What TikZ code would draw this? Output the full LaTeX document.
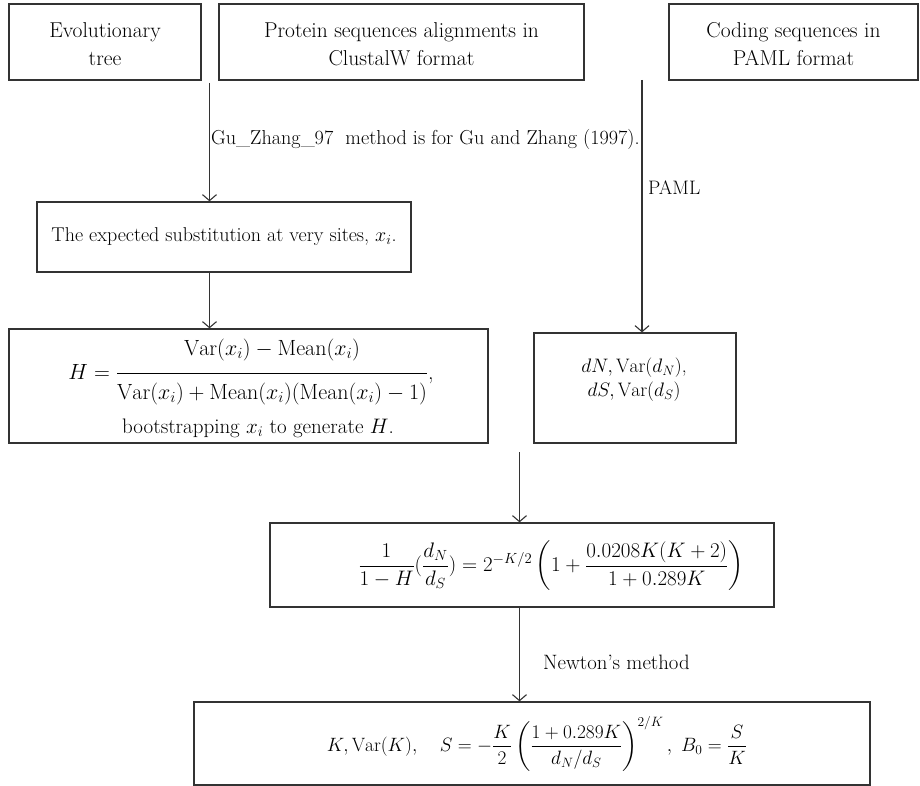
\RequirePackage{fix-cm}
\documentclass[tikz,border=0pt]{standalone}
\usepackage{amsmath}
\usepackage{fontspec}
\usetikzlibrary{arrows.meta}
\newcommand{\fs}[2]{\fontsize{#1}{#2}\selectfont}
\newcommand{\shiftdown}[2]{\raisebox{-#1}[\height][\depth]{\begin{tabular}{@{}c@{}}#2\end{tabular}}}
\begin{document}
\begin{tikzpicture}[x=1pt,y=-1pt,
  every node/.style={font=\fs{20}{27}},
  box/.style={draw=black!80, line width=1.3pt, rectangle, inner sep=0pt, align=center},
  topbox/.style={box, minimum height=76pt, font=\fs{21.5}{28.5}},
  txt/.style={inner sep=0pt, align=center},
  lbl/.style={inner sep=0pt, anchor=west},
  arr/.style={draw=black!80, line width=1.1pt, -{Straight Barb[length=6pt,width=14pt]}}]
\useasboundingbox (0,0) rectangle (920,786);

% top row
\node[topbox, minimum width=192pt] (tree) at (105,42) {\shiftdown{4pt}{Evolutionary\\tree}};
\node[topbox, minimum width=365pt] (prot) at (401.5,42) {\shiftdown{4pt}{Protein sequences alignments in\\ClustalW format}};
\node[topbox, minimum width=249pt] (cod) at (793.5,42) {\shiftdown{4pt}{Coding sequences in\\PAML format}};

% left branch
\coordinate (gs) at (209.5,83);
\node[box, minimum width=374pt, minimum height=70pt] (exp) at (224,237) {The expected substitution at very sites, $x_i$.};
\draw[arr] (gs) -- (gs |- exp.north);
\node[lbl, font=\fs{20.2}{27}] (gulabel) at (211,139) {Gu\_Zhang\_97\ \ method is for Gu and Zhang (1997).};

\node[box, minimum width=479pt, minimum height=114pt] (H) at (248.5,386) {};
\draw[arr] (exp.south -| gs) -- (H.north -| gs);
\node[txt, font=\fs{22}{27}] (hform) at (251,372) {$H = \dfrac{\rule[-15pt]{0pt}{15pt}\mathrm{Var}(x_i) - \mathrm{Mean}(x_i)}{\rule{0pt}{23pt}\mathrm{Var}(x_i) + \mathrm{Mean}(x_i)(\mathrm{Mean}(x_i) - 1)}$,};
\node[txt, font=\fs{21}{27}] (hboot) at (258,428) {bootstrapping $x_i$ to generate $H$.};

% right branch
\coordinate (ps) at (642,80);
\node[box, minimum width=202pt, minimum height=110pt] (dn) at (635,388) {};
\draw[arr] (ps) -- (ps |- dn.north);
\node[lbl, font=\fs{19.5}{24}] (pamllabel) at (648,188) {PAML};
\node[txt, font=\fs{19.5}{24}] (dntext) at (634,380) {$dN, \mathrm{Var}(d_N)$,\\$dS, \mathrm{Var}(d_S)$};

% merge
\coordinate (m) at (519.5,452);
\node[box, minimum width=504pt, minimum height=84pt] (form) at (522,565) {};
\draw[arr] (m) -- (m |- form.north);
\node[txt, font=\fs{21}{27}] (formtext) at (551,566) {$\dfrac{1}{1-H}(\dfrac{d_N}{d_S}) = 2^{-K/2}\left(1 + \dfrac{0.0208K(K+2)}{1+0.289K}\right)$};

\node[box, minimum width=676pt, minimum height=83pt] (fin) at (532,743.5) {};
\draw[arr] (form.south -| m) -- (fin.north -| m);
\node[lbl, font=\fs{20.8}{27}] (newton) at (543,662) {Newton's method};
\node[txt, font=\fs{19.3}{27}] (fintext) at (537,744) {$K, \mathrm{Var}(K),\quad S = -\dfrac{K}{2}\left(\dfrac{1+0.289K}{d_N/d_S}\right)^{2/K},\ B_0 = \dfrac{S}{K}$};
\end{tikzpicture}
\end{document}
